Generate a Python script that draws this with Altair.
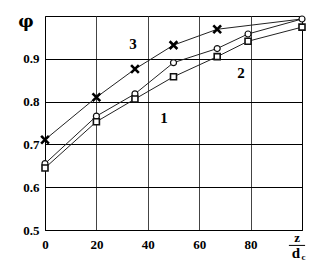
import altair as alt
import pandas as pd

# data
x_curve3 = [0, 20, 35, 50, 67, 100]
y_curve3 = [0.711, 0.810, 0.876, 0.932, 0.969, 0.993]
x_curve2 = [0, 20, 35, 50, 67, 79, 100]
y_curve2 = [0.655, 0.766, 0.818, 0.891, 0.924, 0.958, 0.993]
x_curve1 = [0, 20, 35, 50, 67, 79, 100]
y_curve1 = [0.645, 0.753, 0.806, 0.858, 0.905, 0.941, 0.974]
x_ticks = [0, 20, 40, 60, 80]
y_ticks = [0.5, 0.6, 0.7, 0.8, 0.9]

# annotations (data coordinates)
curve_labels = ["3", "2", "1"]
label_x = [34.2, 76.3, 46.3]
label_y = [0.935, 0.867, 0.762]

rows = []
for s, xs, ys in (("3", x_curve3, y_curve3), ("2", x_curve2, y_curve2), ("1", x_curve1, y_curve1)):
    for xv, yv in zip(xs, ys):
        rows.append({"s": s, "x": xv, "y": yv})
df = pd.DataFrame(rows)

FONT = "Liberation Serif"
xs = alt.Scale(domain=[0, 100], nice=False)
ys = alt.Scale(domain=[0.5, 1.0], nice=False)

X = alt.X("x:Q", scale=xs, axis=alt.Axis(values=x_ticks, title=None, grid=True, gridColor="#444",
          gridWidth=1, ticks=False, domainColor="#000", labelFont=FONT, labelFontWeight="bold",
          labelFontSize=13, labelColor="#000", labelPadding=8, labelFlush=False))
Y = alt.Y("y:Q", scale=ys, axis=alt.Axis(values=y_ticks, title=None, grid=True, gridColor="#000",
          gridWidth=1, ticks=False, domainColor="#000", labelFont=FONT, labelFontWeight="bold",
          labelFontSize=13, labelColor="#000", labelPadding=6, format=".1f", labelFlush=False))

base = alt.Chart(df)
lines = base.mark_line(color="#222", strokeWidth=1).encode(x=X, y=Y, detail="s:N")

cross = base.transform_filter("datum.s == '3' && datum.x < 100").mark_point(
    shape="M-1,-1L1,1M1,-1L-1,1", size=60, stroke="#000", strokeWidth=2.6, opacity=1
).encode(x="x:Q", y="y:Q")
circ = base.transform_filter("datum.s == '2'").mark_point(
    shape="circle", size=36, stroke="#111", strokeWidth=1.2, fill="white", filled=False, opacity=1
).encode(x="x:Q", y="y:Q")
sq = base.transform_filter("datum.s == '1'").mark_point(
    shape="square", size=36, stroke="#111", strokeWidth=1.6, fill="white", filled=False, opacity=1
).encode(x="x:Q", y="y:Q")

lab_df = pd.DataFrame({"t": curve_labels, "x": label_x, "y": label_y})
labels = alt.Chart(lab_df).mark_text(font=FONT, fontSize=15, fontWeight="bold", color="#000").encode(
    x="x:Q", y="y:Q", text="t:N")

phi_df = pd.DataFrame({"t": ["φ"], "x": [-7.4], "y": [0.986]})
phi = alt.Chart(phi_df).mark_text(font="DejaVu Serif", fontWeight="bold", fontSize=17, color="#000").encode(
    x="x:Q", y="y:Q", text="t:N")

ann_df = pd.DataFrame({
    "t": ["z", "d", "c"],
    "x": [98.1, 97.6, 100.6],
    "y": [0.482, 0.446, 0.437],
    "fs": [13, 15, 9],
})
ann = alt.Chart(ann_df).mark_text(font=FONT, fontWeight="bold", color="#000").encode(
    x="x:Q", y="y:Q", text="t:N", size=alt.Size("fs:Q", scale=None, legend=None))

bar_df = pd.DataFrame({"x": [94.9], "x2": [101.2], "y": [0.464]})
frac = alt.Chart(bar_df).mark_rule(color="#000", strokeWidth=1).encode(x="x:Q", x2="x2:Q", y="y:Q")

chart = alt.layer(lines, circ, sq, cross, labels, phi, ann, frac).properties(
    width=257, height=214,
    autosize=alt.AutoSizeParams(type="none"),
    padding={"left": 45, "top": 16, "right": 30, "bottom": 45},
    background="white",
).configure_view(stroke="#000", strokeWidth=1)

chart.save("out.html", embed_options={"renderer": "svg", "actions": False})
